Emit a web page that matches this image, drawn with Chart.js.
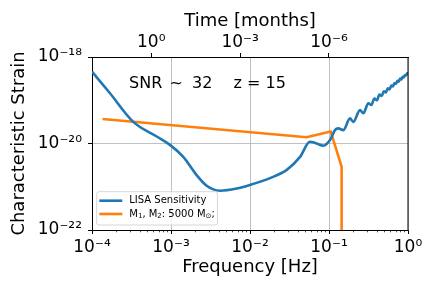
<!DOCTYPE html>
<html>
<head>
<meta charset="utf-8">
<style>
  html, body { margin: 0; padding: 0; background: #fff; }
</style>
<script src="https://cdn.jsdelivr.net/npm/chart.js@4.4.1/dist/chart.umd.min.js"></script>
</head>
<body>
<canvas id="myChart" width="436" height="291"></canvas>
<script>
// values
const lisaFreq = [1e-4, 1.69e-4, 3.33e-4, 6.59e-4, 9.7e-4, 1.43e-3, 2.11e-3, 2.83e-3, 3.43e-3, 4.17e-3, 6.79e-3,
  0.01, 0.0179, 0.0292, 0.043, 0.0574, 0.0698, 0.0847, 0.103, 0.119, 0.131, 0.152, 0.1845, 0.203,
  0.247, 0.272, 0.315, 0.345, 0.375, 0.405, 0.435, 0.465, 0.495, 0.525, 0.555, 0.585, 0.615, 0.645,
  0.675, 0.705, 0.735, 0.765, 0.795, 0.825, 0.855, 0.885, 0.915, 0.945, 0.975, 1.0];
const lisaStrain = [4.6e-19, 1.45e-19, 3.16e-20, 1.45e-20, 9.3e-21, 4.9e-21, 1.86e-21, 1.05e-21, 8.7e-22, 8.1e-22, 9.1e-22,
  1.1e-21, 1.58e-21, 2.45e-21, 4.9e-21, 1.1e-20, 1.0e-20, 8.9e-21, 1.2e-20, 2.04e-20, 2.24e-20, 2.04e-20, 3.8e-20, 3.16e-20,
  5.9e-20, 5.0e-20, 8.5e-20, 7.76e-20, 1.1e-19, 1.0e-19, 1.35e-19, 1.26e-19, 1.62e-19, 1.51e-19, 1.9e-19, 1.78e-19, 2.19e-19, 2.09e-19,
  2.51e-19, 2.4e-19, 2.82e-19, 2.69e-19, 3.16e-19, 3.02e-19, 3.47e-19, 3.35e-19, 3.85e-19, 3.72e-19, 4.2e-19, 4.17e-19];

const binaryFreq = [1.36e-4, 0.0521, 0.105, 0.1445, 0.1445];
const binaryStrain = [3.7e-20, 1.4e-20, 1.9e-20, 2.9e-21, 1e-23];

const seriesLabels = ['LISA Sensitivity', 'M\u2081, M\u2082: 5000 M\u2299;'];
// same second label split into normal / subscript pieces for the drawn legend
const binaryLabelParts = [['M', 0], ['1', 1], [', M', 0], ['2', 1], [': 5000 M', 0], ['\u2299', 1], [';', 0]];

const freqTicks = [1e-4, 1e-3, 1e-2, 1e-1, 1];
const strainTicks = [1e-22, 1e-20, 1e-18];
const timeTicks = [1, 1e-3, 1e-6];
// time range matching the frequency range (t ~ f^-8/3)
const timeAtFreqMin = 100;
const timeAtFreqMax = 2.154e-9;

const FONT = 'DejaVu Sans';
Chart.defaults.font.family = FONT;
Chart.defaults.color = '#000';

const SUP = { '0': '\u2070', '1': '\u00b9', '2': '\u00b2', '3': '\u00b3', '4': '\u2074', '5': '\u2075',
  '6': '\u2076', '7': '\u2077', '8': '\u2078', '9': '\u2079', '-': '\u207b' };
function powLabel(v) {
  const e = String(Math.round(Math.log10(v)));
  return '10' + e.split('').map(c => SUP[c]).join('');
}

function toPoints(xs, ys) {
  return xs.map((x, i) => ({ x: x, y: ys[i] }));
}

function partsWidth(ctx, parts, size) {
  let w = 0;
  parts.forEach(([txt, sub]) => {
    ctx.font = (sub ? size * 0.7 : size) + 'px "' + FONT + '"';
    w += ctx.measureText(txt).width;
  });
  return w;
}

function drawParts(ctx, parts, x, y, size) {
  parts.forEach(([txt, sub]) => {
    ctx.font = (sub ? size * 0.7 : size) + 'px "' + FONT + '"';
    ctx.fillText(txt, x, y + (sub ? size * 0.22 : 0));
    x += ctx.measureText(txt).width;
  });
}

const extras = {
  id: 'extras',
  afterDraw(chart) {
    const ctx = chart.ctx;
    const area = chart.chartArea;
    const xs = chart.scales.x;
    ctx.save();

    // minor ticks on the frequency axis
    ctx.strokeStyle = '#000';
    ctx.lineWidth = 0.7;
    for (let k = -4; k < 0; k++) {
      for (let m = 2; m < 10; m++) {
        const px = Math.round(xs.getPixelForValue(m * Math.pow(10, k))) + 0.5;
        ctx.beginPath();
        ctx.moveTo(px, area.bottom);
        ctx.lineTo(px, area.bottom + 2.3);
        ctx.stroke();
      }
    }

    // right spine
    ctx.lineWidth = 1;
    ctx.beginPath();
    ctx.moveTo(area.right, area.top);
    ctx.lineTo(area.right, area.bottom);
    ctx.stroke();

    // annotation
    ctx.fillStyle = '#000';
    ctx.font = '16px "' + FONT + '"';
    ctx.textBaseline = 'alphabetic';
    ctx.fillText('SNR', 129, 88);
    ctx.fillText('~', 169.5, 88);
    ctx.fillText('32', 192, 88);
    ctx.fillText('z = 15', 233.5, 88);

    // legend, lower left inside the plot
    const ds = chart.data.datasets;
    const size = 10;
    ctx.font = size + 'px "' + FONT + '"';
    const wText = Math.max(ctx.measureText(seriesLabels[0]).width, partsWidth(ctx, binaryLabelParts, size));
    const bx = area.left + 4.7, bh = 33.3, by = area.bottom - 5 - bh;
    const bw = 2.6 + 23 + 6.6 + wText + 3;
    ctx.fillStyle = 'rgba(255,255,255,0.8)';
    ctx.strokeStyle = '#cccccc';
    ctx.lineWidth = 0.8;
    ctx.beginPath();
    ctx.roundRect(bx, by, bw, bh, 2.5);
    ctx.fill();
    ctx.stroke();
    const rows = [by + 9, by + 22.3];
    ds.forEach((d, i) => {
      ctx.strokeStyle = d.borderColor;
      ctx.lineWidth = 2.6;
      ctx.beginPath();
      ctx.moveTo(bx + 2.6, rows[i]);
      ctx.lineTo(bx + 25.6, rows[i]);
      ctx.stroke();
    });
    ctx.fillStyle = '#000';
    ctx.textBaseline = 'middle';
    ctx.font = size + 'px "' + FONT + '"';
    ctx.fillText(seriesLabels[0], bx + 32.6, rows[0]);
    drawParts(ctx, binaryLabelParts, bx + 32.6, rows[1], size);

    ctx.restore();
  }
};

const gridOpts = {
  color: '#b0b0b0',
  lineWidth: 0.8,
  tickColor: '#000',
  tickLength: 4,
  tickWidth: 1
};

new Chart(document.getElementById('myChart'), {
  type: 'line',
  data: {
    datasets: [{
      label: seriesLabels[0],
      data: toPoints(lisaFreq, lisaStrain),
      borderColor: '#1f77b4',
      borderWidth: 2.6,
      cubicInterpolationMode: 'monotone',
      pointRadius: 0,
      xAxisID: 'x',
      yAxisID: 'y'
    }, {
      label: seriesLabels[1],
      data: toPoints(binaryFreq, binaryStrain),
      borderColor: '#ff7f0e',
      borderWidth: 2.6,
      tension: 0,
      pointRadius: 0,
      xAxisID: 'x',
      yAxisID: 'y'
    }]
  },
  options: {
    responsive: false,
    animation: false,
    layout: { padding: { left: 0, right: 28, top: 0, bottom: 0 } },
    plugins: { legend: { display: false }, tooltip: { enabled: false } },
    scales: {
      x: {
        type: 'logarithmic',
        position: 'bottom',
        min: 1e-4,
        max: 1,
        afterBuildTicks: s => { s.ticks = freqTicks.map(v => ({ value: v })); },
        afterFit: s => { s.height = 61; },
        ticks: { callback: v => powLabel(v), font: { size: 17 }, padding: 3, maxRotation: 0, autoSkip: false },
        grid: gridOpts,
        border: { color: '#000', width: 1 },
        title: { display: true, text: 'Frequency [Hz]', font: { size: 18 }, padding: { top: 0, bottom: 13 } }
      },
      x2: {
        type: 'logarithmic',
        position: 'top',
        reverse: true,
        min: timeAtFreqMax,
        max: timeAtFreqMin,
        afterBuildTicks: s => { s.ticks = timeTicks.map(v => ({ value: v })); },
        afterFit: s => { s.height = 57; },
        ticks: { callback: v => powLabel(v), font: { size: 17 }, padding: 0, maxRotation: 0, autoSkip: false },
        grid: Object.assign({}, gridOpts, { drawOnChartArea: false }),
        border: { color: '#000', width: 1 },
        title: { display: true, text: 'Time [months]', font: { size: 18 }, padding: { top: 11, bottom: 0 } }
      },
      y: {
        type: 'logarithmic',
        position: 'left',
        min: 1e-22,
        max: 1e-18,
        afterBuildTicks: s => { s.ticks = strainTicks.map(v => ({ value: v })); },
        afterFit: s => { s.width = 92; },
        ticks: { callback: v => powLabel(v), font: { size: 17 }, padding: 6 },
        grid: gridOpts,
        border: { color: '#000', width: 1 },
        title: { display: true, text: 'Characteristic Strain', font: { size: 18 }, padding: { top: 9, bottom: 0 } }
      }
    }
  },
  plugins: [extras]
});
</script>
</body>
</html>
